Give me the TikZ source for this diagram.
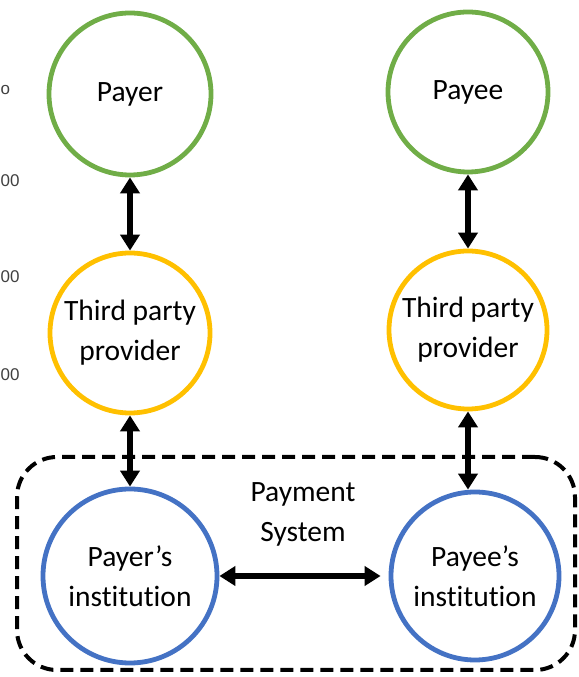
\documentclass[tikz,border=0pt]{standalone}
\usepackage{fontspec}
\setmainfont{Carlito}[Ligatures={TeX,NoCommon}]
\newfontfamily\edgefont{Liberation Sans}
\usetikzlibrary{arrows.meta}
\definecolor{payergreen}{HTML}{70AD47}
\definecolor{tppgold}{HTML}{FFC000}
\definecolor{instblue}{HTML}{4472C4}
\begin{document}
\begin{tikzpicture}[x=1pt, y=1pt, line join=round,
	font=\fontsize{29.5}{40}\selectfont,
	party/.style={circle, draw=#1, line width=4.8pt, align=center, inner sep=0pt},
	link/.style={{Triangle[length=16pt,width=19pt]}-{Triangle[length=16pt,width=19pt]}, line width=5.5pt},
	sysbox/.style={draw, dash pattern=on 13pt off 7pt, line width=4pt, rounded corners=40pt},
	edgetext/.style={font=\edgefont\fontsize{17}{17}\selectfont, text=black!75, inner sep=0pt, anchor=west}]
	\useasboundingbox (0,0) rectangle (578,677);
	% cut-off labels at the left edge
	\node[edgetext] (cut1) at (0.5,587) {o};
	\node[edgetext] (cut2) at (0.5,496) {00};
	\node[edgetext] (cut3) at (0.5,400) {00};
	\node[edgetext] (cut4) at (0.5,302) {00};
	% payment system frame
	\node[sysbox, minimum width=558pt, minimum height=213pt] (paysys) at (296,113.5) {};
	\node[align=center] (paysystext) at (303,163) {Payment\\System};
	% parties
	\node[party=payergreen, minimum size=162pt] (payer) at (130,583) {Payer};
	\node[party=payergreen, minimum size=160pt] (payee) at (468,585) {Payee};
	\node[party=tppgold, minimum size=160pt] (tppleft) at (130,344) {Third party\\provider};
	\node[party=tppgold, minimum size=158pt] (tppright) at (468,347) {Third party\\provider};
	\node[party=instblue, minimum size=174pt] (payerinst) at (130,101) {Payer's\\institution};
	\node[party=instblue, minimum size=168pt] (payeeinst) at (475,101) {Payee's\\institution};
	% links
	\draw[link] (payer) -- (tppleft);
	\draw[link] (tppleft) -- (payerinst);
	\draw[link] (payee) -- (tppright);
	\draw[link] (tppright.south) -- (tppright.south |- payeeinst.north);
	\draw[link, shorten >=8pt] (payerinst) -- (payeeinst);
\end{tikzpicture}
\end{document}
